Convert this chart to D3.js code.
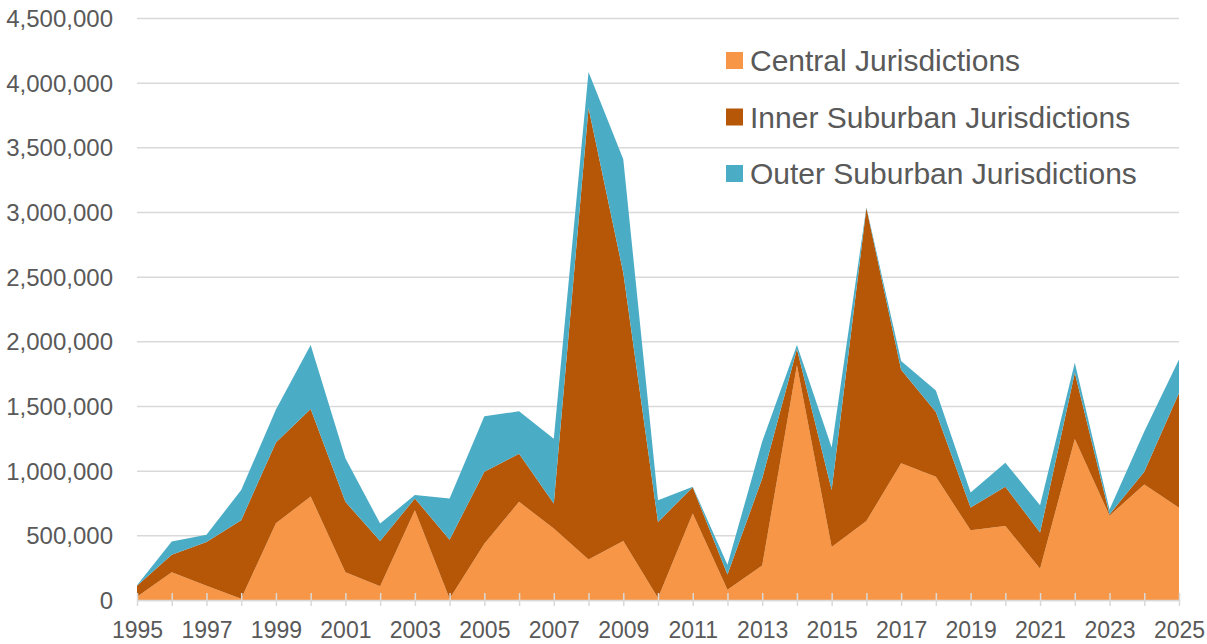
<!DOCTYPE html>
<html>
<head>
<meta charset="utf-8">
<script src="https://cdn.jsdelivr.net/npm/d3@7"></script>
<style>
    body { margin: 0; background: #fff; }
    text { font-family: "Liberation Sans", Arial, sans-serif; fill: #595959; }
</style>
</head>
<body>
<div id="chartDiv"></div>
<script>

var years = d3.range(1995, 2026);

var seriesNames = ["Central Jurisdictions", "Inner Suburban Jurisdictions", "Outer Suburban Jurisdictions"];
var seriesColors = ["#F79646", "#B65708", "#4BACC6"];

var central = [25000, 215000, 111000, 10000, 593000, 800000, 215000, 106000, 694000, 10000,
    435000, 759000, 552000, 313000, 456000, 15000, 668000, 80000, 267000, 1815000,
    409000, 611000, 1057000, 953000, 539000, 573000, 241000, 1244000, 652000, 894000, 713000];

var inner = [85000, 135000, 337000, 607000, 625000, 677000, 544000, 350000, 91000, 456000,
    557000, 371000, 194000, 3491000, 2074000, 589000, 203000, 117000, 673000, 125000,
    441000, 2419000, 723000, 500000, 176000, 303000, 280000, 513000, 10000, 98000, 888000];

var outer = [5000, 103000, 57000, 233000, 254000, 495000, 337000, 135000, 26000, 319000,
    428000, 329000, 500000, 278000, 878000, 168000, 4000, 75000, 285000, 32000,
    329000, 6000, 67000, 166000, 117000, 186000, 212000, 77000, 38000, 311000, 259000];

var yTicks = [0, 500000, 1000000, 1500000, 2000000, 2500000, 3000000, 3500000, 4000000, 4500000];
var xTicks = d3.range(1995, 2026, 2);

var margin = {top: 18, right: 28, bottom: 44, left: 137},
    totalWidth = 1207,
    totalHeight = 644,
    width = totalWidth - margin.left - margin.right,
    height = totalHeight - margin.top - margin.bottom;

var table = years.map(function (y, i) {
    return {year: y, c: central[i], i: inner[i], o: outer[i]};
});

var stack = d3.stack().keys(["c", "i", "o"]);
var layers = stack(table);

var x = d3.scaleLinear()
    .domain([1995, 2025])
    .range([0, width]);

var y = d3.scaleLinear()
    .domain([0, 4500000])
    .range([height, 0]);

var svg = d3.select("#chartDiv").append("svg")
    .attr("width", totalWidth)
    .attr("height", totalHeight)
    .append("g")
    .attr("transform", "translate(" + margin.left + "," + margin.top + ")");

// grid + y labels
var yAxis = d3.axisLeft(y)
    .tickValues(yTicks)
    .tickFormat(d3.format(",d"))
    .tickSize(-width)
    .tickPadding(24);

svg.append("g")
    .attr("class", "y axis")
    .call(yAxis)
    .call(function (g) {
        g.select(".domain").remove();
        g.selectAll(".tick line")
            .style("stroke", "#D9D9D9")
            .style("stroke-width", 1.5);
        g.selectAll(".tick text")
            .style("font-size", "24px")
            .style("fill", "#595959")
            .attr("dy", "0.35em");
    });

var area = d3.area()
    .x(function (d) {
        return x(d.data.year);
    })
    .y0(function (d) {
        return y(d[0]);
    })
    .y1(function (d) {
        return y(d[1]);
    });

svg.selectAll(".layer")
    .data(layers)
    .enter()
    .append("path")
    .attr("class", "layer")
    .attr("d", area)
    .style("fill", function (d, i) {
        return seriesColors[i];
    });

// x axis on top of the areas
var xAxis = d3.axisBottom(x)
    .tickValues(years)
    .tickFormat(function (d) {
        return xTicks.indexOf(d) >= 0 ? d : "";
    })
    .tickSizeInner(6)
    .tickSizeOuter(0)
    .tickPadding(16);

svg.append("g")
    .attr("class", "x axis")
    .attr("transform", "translate(0," + height + ")")
    .call(xAxis)
    .call(function (g) {
        g.select(".domain")
            .style("stroke", "#D9D9D9")
            .style("stroke-width", 1.5);
        g.selectAll(".tick line")
            .attr("y1", -7)
            .style("stroke", "#D9D9D9")
            .style("stroke-width", 1.5);
        g.selectAll(".tick text")
            .style("font-size", "23px")
            .style("fill", "#595959");
    });

// legend
var legend = svg.append("g")
    .attr("class", "legend")
    .attr("transform", "translate(" + (726 - margin.left) + "," + (52 - margin.top) + ")");

var item = legend.selectAll(".item")
    .data(seriesNames)
    .enter()
    .append("g")
    .attr("class", "item")
    .attr("transform", function (d, i) {
        return "translate(0," + (i * 56.5) + ")";
    });

item.append("rect")
    .attr("width", 17)
    .attr("height", 17)
    .style("fill", function (d, i) {
        return seriesColors[i];
    });

item.append("text")
    .attr("x", 24)
    .attr("y", 8.5)
    .attr("dy", "0.35em")
    .style("font-size", "30px")
    .text(function (d) {
        return d;
    });

</script>
</body>
</html>
